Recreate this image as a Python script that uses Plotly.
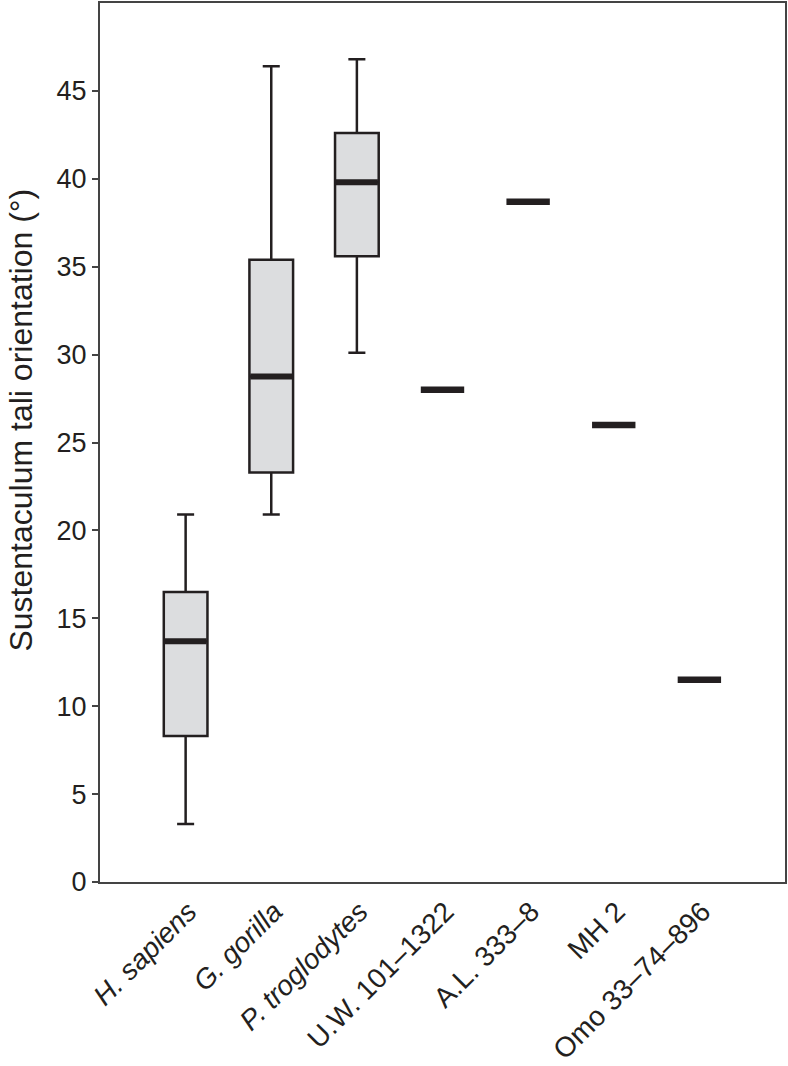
import plotly.graph_objects as go

categories = ["<i>H. sapiens</i>", "<i>G. gorilla</i>", "<i>P. troglodytes</i>",
              "U.W. 101–1322", "A.L. 333–8", "MH 2", "Omo 33–74–896"]

# Box-plot groups (extant species)
box_pos = [0, 1, 2]
box_lower = [3.3, 20.9, 30.1]
box_q1 = [8.3, 23.3, 35.6]
box_median = [13.7, 28.75, 39.8]
box_q3 = [16.5, 35.4, 42.6]
box_upper = [20.9, 46.4, 46.8]

# Single fossil values
fossil_pos = [3, 4, 5, 6]
fossil_vals = [28.0, 38.7, 26.0, 11.5]

y_ticks = [0, 5, 10, 15, 20, 25, 30, 35, 40, 45]
y_title = "Sustentaculum tali orientation (°)"

ink = "#231f20"
fill = "#dcdddf"
font = "Liberation Sans, Arial, Helvetica, sans-serif"

fig = go.Figure()

fig.add_trace(go.Box(
    x=box_pos, q1=box_q1, median=box_median, q3=box_q3,
    lowerfence=box_lower, upperfence=box_upper,
    width=0.51, whiskerwidth=0.39,
    fillcolor=fill, line=dict(color=ink, width=2.5),
    boxpoints=False, showlegend=False, hoverinfo="skip",
))

# thick median bars
fig.add_trace(go.Scatter(
    x=box_pos, y=box_median, mode="markers",
    marker=dict(symbol="line-ew", size=30, color=ink,
                line=dict(color=ink, width=6)),
    showlegend=False, hoverinfo="skip",
))

# fossil marks
fig.add_trace(go.Scatter(
    x=fossil_pos, y=fossil_vals, mode="markers",
    marker=dict(symbol="line-ew", size=31, color=ink,
                line=dict(color=ink, width=6.5)),
    showlegend=False, hoverinfo="skip",
))

fig.add_annotation(
    text=y_title, textangle=-90, showarrow=False,
    xref="paper", yref="paper", x=0, y=0.525,
    xanchor="center", yanchor="middle", xshift=-79,
    borderpad=0,
    font=dict(size=32, color=ink, family=font),
)

fig.update_layout(
    width=788, height=1066,
    margin=dict(l=100, r=2, t=1, b=181),
    paper_bgcolor="white", plot_bgcolor="white",
    font=dict(family=font, color=ink, size=27),
    xaxis=dict(
        range=[-1, 7], tickmode="array", tickvals=list(range(7)),
        ticktext=categories, tickangle=-45, ticks="",
        showgrid=False, zeroline=False,
        showline=True, linecolor="#444444", linewidth=2, mirror=True,
        tickfont=dict(size=28, color=ink), ticklabelstandoff=0,
        ticklabelshift=3,
    ),
    yaxis=dict(
        range=[0, 50], tickmode="array", tickvals=y_ticks,
        ticks="outside", ticklen=6, tickwidth=1.5, tickcolor="#444444",
        showgrid=False, zeroline=False,
        showline=True, linecolor="#444444", linewidth=2, mirror=True,
        tickfont=dict(size=27, color=ink),
    ),
)

fig.write_html("out.html", config={"displayModeBar": False},
               post_script="document.body.style.margin='0';")
